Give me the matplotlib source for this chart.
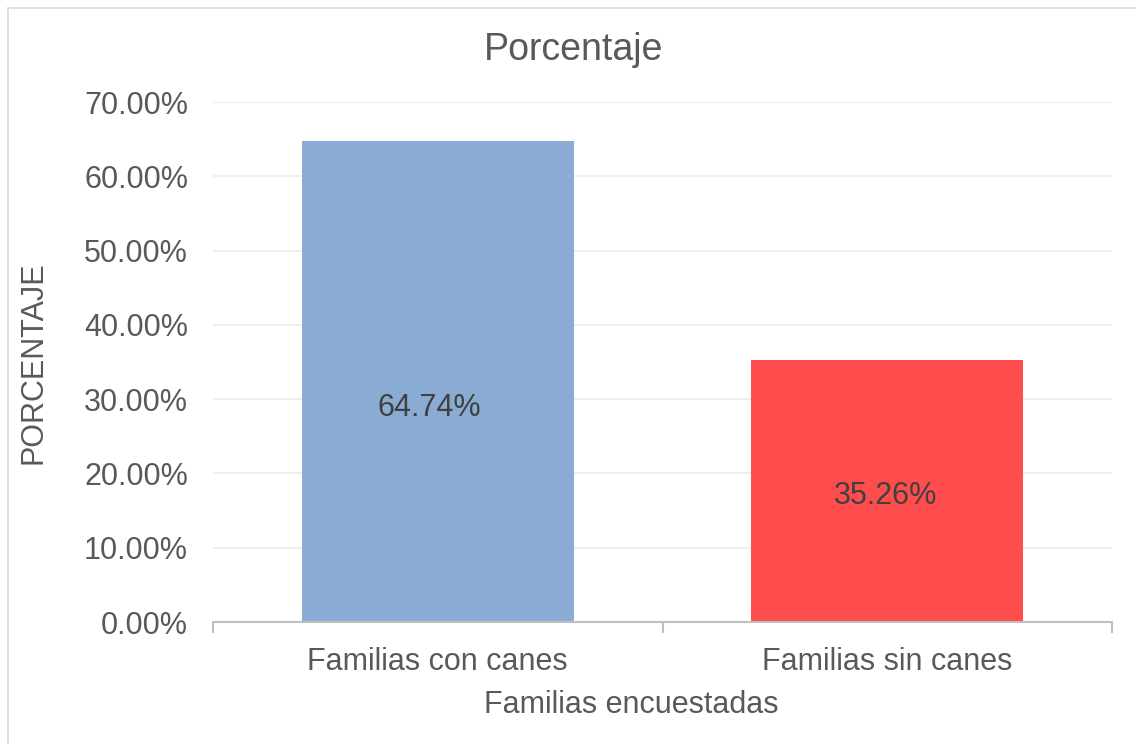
import matplotlib
matplotlib.use("Agg")
import matplotlib.pyplot as plt
from matplotlib.ticker import FuncFormatter, MultipleLocator
from matplotlib.patches import Rectangle

categories = ["Familias con canes", "Familias sin canes"]
values = [64.74, 35.26]
labels = ["64.74%", "35.26%"]

bar_colors = ["#8AACD4", "#FF4C4C"]
label_offsets_px = [(-8, -26), (-2, -5)]  # shift of data labels from bar centre

plt.rcParams['font.family'] = ['Liberation Sans', 'DejaVu Sans']
TXT = "#595959"
FS = 22

W, H = 1136, 744
fig = plt.figure(figsize=(W / 100, H / 100), dpi=100)
ax = fig.add_axes([213 / W, 1 - 622 / H, (1112 - 213) / W, (622 - 102) / H])

# outer chart border (only top/left visible in crop)
fig.patches.append(Rectangle((8 / W, -0.1), 1.2, (1 - 8 / H) + 0.1, transform=fig.transFigure,
                             fill=False, edgecolor="#D9D9D9", linewidth=1.2))

x = range(len(categories))
ax.bar(x, values, width=0.605, color=bar_colors, zorder=2)
ax.set_xlim(-0.5, len(categories) - 0.5)
ax.set_ylim(0, 70)
ax.yaxis.set_major_locator(MultipleLocator(10))
ax.yaxis.set_major_formatter(FuncFormatter(lambda v, p: f"{v:.2f}%"))
ax.grid(axis="y", color="#EBEBEB", linewidth=1.2, zorder=0)
ax.set_axisbelow(True)

for s in ["top", "right", "left"]:
    ax.spines[s].set_visible(False)
ax.spines["bottom"].set_color("#BFBFBF")
ax.spines["bottom"].set_linewidth(1.5)

ax.set_xticks([-0.5, 0.5, 1.5], minor=False)
ax.set_xticklabels([])
ax.set_xticks(list(x), minor=True)
ax.set_xticklabels(categories, minor=True)
ax.tick_params(axis="x", which="major", length=8, width=1.5, color="#BFBFBF")
ax.tick_params(axis="x", which="minor", length=0, pad=18, labelsize=FS, labelcolor=TXT)
ax.tick_params(axis="y", length=0, labelsize=FS, labelcolor=TXT, pad=18)

fig.text(631 / W, 1 - 705 / H, "Familias encuestadas", fontsize=FS, color=TXT, ha="center", va="center")
fig.text(34 / W, 1 - 363 / H, "PORCENTAJE", fontsize=FS, color=TXT, ha="center", va="center", rotation=90)
fig.text(574 / W, 1 - 50 / H, "Porcentaje", fontsize=27, color=TXT, ha="center", va="center")

for i, (v, lab) in enumerate(zip(values, labels)):
    dx, dy = label_offsets_px[i]
    ax.annotate(lab, (i, v / 2), xytext=(dx * 0.72, dy * 0.72), textcoords="offset points",
                ha="center", va="center", fontsize=FS, color="#404040", zorder=3)

fig.savefig("out.png", dpi=100, facecolor="white")
